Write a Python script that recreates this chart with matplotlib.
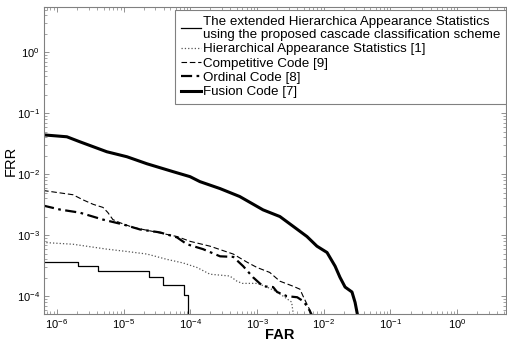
import matplotlib
matplotlib.use("Agg")
import matplotlib.pyplot as plt
from matplotlib.ticker import LogLocator, NullFormatter, FixedLocator

plt.rcParams['font.family'] = ['Liberation Sans', 'DejaVu Sans']
plt.rcParams['mathtext.fontset'] = 'custom'
plt.rcParams['mathtext.rm'] = 'Liberation Sans'
plt.rcParams['axes.unicode_minus'] = False

# ---- data (FAR, FRR) ----
ext_far = [6.2e-7, 2.07e-6, 4.1e-6, 2.4e-5, 3.9e-5, 8.0e-5, 9.2e-5]
ext_frr = [3.6e-4, 3.1e-4, 2.6e-4, 2.1e-4, 1.55e-4, 1.03e-4, 1.0e-5]

hier_far = [6.2e-7, 1.74e-6, 5.6e-6, 1.12e-5, 2.24e-5, 4.5e-5, 7.8e-5, 1.26e-4,
            1.97e-4, 3.9e-4, 5.0e-4, 6.0e-4, 1.0e-3, 1.41e-3, 2.0e-3, 2.6e-3,
            3.3e-3, 3.55e-3]
hier_frr = [7.6e-4, 7.1e-4, 5.9e-4, 5.4e-4, 4.9e-4, 4.0e-4, 3.5e-4, 2.95e-4,
            2.29e-4, 2.14e-4, 1.76e-4, 1.62e-4, 1.62e-4, 1.41e-4, 1.17e-4, 9.6e-5,
            8.0e-5, 4.5e-5]

comp_far = [6.2e-7, 1.74e-6, 2.45e-6, 3.5e-6, 4.9e-6, 5.8e-6, 6.9e-6, 8.8e-6,
            1.38e-5, 2.75e-5, 6.3e-5, 1.0e-4, 1.97e-4, 4.4e-4, 7.1e-4, 1.0e-3,
            1.55e-3, 2.2e-3, 3.5e-3, 4.4e-3, 4.9e-3, 5.6e-3, 6.2e-3, 6.5e-3]
comp_frr = [5.4e-3, 4.6e-3, 3.8e-3, 3.2e-3, 2.85e-3, 2.35e-3, 1.8e-3, 1.6e-3,
            1.34e-3, 1.15e-3, 9.5e-4, 7.9e-4, 6.6e-4, 4.9e-4, 3.6e-4, 2.95e-4,
            2.45e-4, 1.76e-4, 1.45e-4, 1.3e-4, 1.0e-4, 7.4e-5, 5.9e-5, 4.5e-5]

ord_far = [6.2e-7, 1.11e-6, 2.2e-6, 4.9e-6, 9.8e-6, 1.76e-5, 3.5e-5, 6.3e-5,
           8.9e-5, 1.55e-4, 2.79e-4, 4.4e-4, 6.2e-4, 8.7e-4, 1.23e-3, 1.74e-3,
           2.0e-3, 2.8e-3, 4.0e-3, 4.9e-3, 5.6e-3, 6.2e-3, 6.9e-3]
ord_frr = [3.06e-3, 2.63e-3, 2.34e-3, 1.8e-3, 1.5e-3, 1.24e-3, 1.11e-3, 9.2e-4,
           7.1e-4, 5.9e-4, 4.5e-4, 4.4e-4, 3.1e-4, 2.04e-4, 1.45e-4, 1.41e-4,
           1.17e-4, 1.0e-4, 9.6e-5, 8.3e-5, 6.9e-5, 5.7e-5, 4.5e-5]

fus_far = [6.4e-7, 1.41e-6, 2.2e-6, 5.6e-6, 1.12e-5, 2.24e-5, 5.5e-5, 9.9e-5,
           1.39e-4, 2.79e-4, 5.5e-4, 1.23e-3, 2.2e-3, 3.5e-3, 5.6e-3, 7.9e-3,
           1.12e-2, 1.48e-2, 1.75e-2, 2.09e-2, 2.65e-2, 2.95e-2, 3.26e-2]
fus_frr = [0.044, 0.041, 0.034, 0.0233, 0.0193, 0.0148, 0.011, 0.0091,
           0.00755, 0.0058, 0.0043, 0.0026, 0.00202, 0.00139, 9.5e-4, 6.6e-4,
           5.2e-4, 3.1e-4, 2.04e-4, 1.41e-4, 1.17e-4, 7.9e-5, 4.5e-5]

x_major = [1e-6, 1e-5, 1e-4, 1e-3, 1e-2, 1e-1, 1e0]
y_major = [1e-4, 1e-3, 1e-2, 1e-1, 1e0]

labels = ["The extended Hierarchica Appearance Statistics\nusing the proposed cascade classification scheme",
          "Hierarchical Appearance Statistics [1]",
          "Competitive Code [9]",
          "Ordinal Code [8]",
          "Fusion Code [7]"]

fig = plt.figure(figsize=(5.07, 3.41), dpi=100)
ax = fig.add_axes([44/507, 1 - 314/341, 462/507, 307/341])

ax.plot(ext_far, ext_frr, color='black', lw=0.9, drawstyle='steps-post', label=labels[0])
ax.plot(hier_far, hier_frr, color='#555555', lw=0.9, ls=':', label=labels[1])
ax.plot(comp_far, comp_frr, color='black', lw=0.8, ls=(0, (5, 2.5)), label=labels[2])
ax.plot(ord_far, ord_frr, color='black', lw=1.6, ls=(0, (5, 2, 1.2, 2)), label=labels[3])
ax.plot(fus_far, fus_frr, color='black', lw=2.2, label=labels[4])

ax.set_xscale('log')
ax.set_yscale('log')
ax.set_xlim(6.4e-7, 5.4)
ax.set_ylim(5.1e-5, 5.5)

ax.xaxis.set_major_locator(FixedLocator(x_major))
ax.yaxis.set_major_locator(FixedLocator(y_major))
for axis in (ax.xaxis, ax.yaxis):
    axis.set_minor_locator(LogLocator(base=10, subs=range(2, 10), numticks=20))
    axis.set_minor_formatter(NullFormatter())

ax.tick_params(which='both', direction='in', top=True, right=True, colors='#808080',
               labelcolor='black', labelsize=8)
ax.tick_params(which='major', length=3.5, width=0.6)
ax.tick_params(axis='x', which='major', pad=2.5)
ax.tick_params(axis='y', which='major', pad=3)
ax.tick_params(which='minor', length=2, width=0.5)
for s in ax.spines.values():
    s.set_color('#808080')
    s.set_linewidth(0.8)

ax.set_xlabel('FAR', fontsize=10.5, fontweight='bold')
ax.set_ylabel('FRR', fontsize=10.5)
ax.xaxis.set_label_coords(0.51, -0.045)
ax.yaxis.set_label_coords(-0.056, 0.5)

leg = ax.legend(loc='upper right', bbox_to_anchor=(1.0, 1 - 3/307), fontsize=9.6,
                fancybox=False, framealpha=1, edgecolor='#808080', borderaxespad=0.0,
                handlelength=1.5, handletextpad=0.15, labelspacing=0.15, borderpad=0.45)
leg.get_frame().set_linewidth(0.8)
for t in leg.get_texts():
    t.set_linespacing(1.1)

fig.savefig('out.png', dpi=100)
